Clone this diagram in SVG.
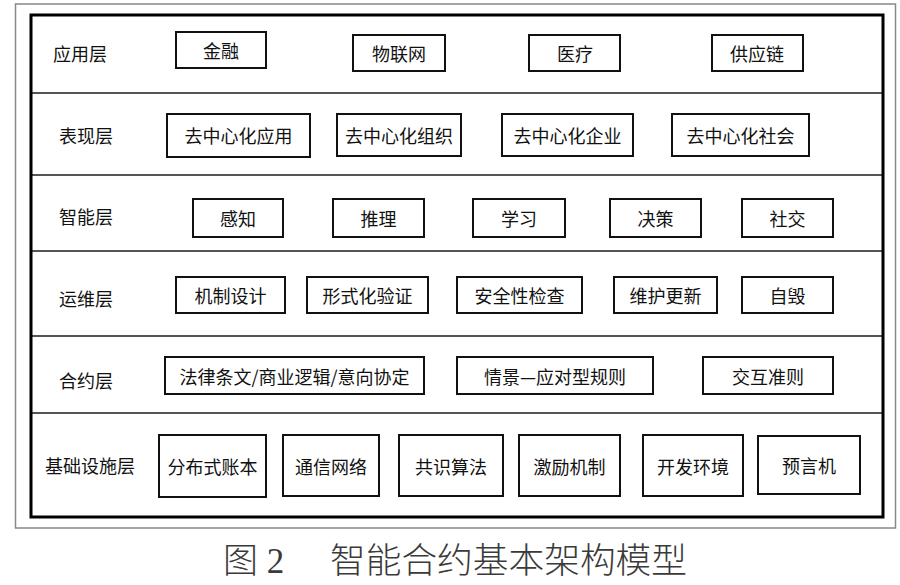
<svg xmlns="http://www.w3.org/2000/svg" width="900" height="585" viewBox="0 0 900 585">
<style>
.box{fill:#fff;stroke:#111;stroke-width:2}
.t{font-family:"Noto Sans CJK SC","Noto Sans",sans-serif;font-size:18px;fill:#111;text-anchor:middle;dominant-baseline:central}
.lbl{font-family:"Noto Sans CJK SC","Noto Sans",sans-serif;font-size:18px;fill:#111;dominant-baseline:central}
.div{stroke:#555;stroke-width:2}
.cap{font-family:"Liberation Serif","Noto Sans CJK SC",serif;font-size:35px;font-weight:300;fill:#3a3a3a}
</style>
<rect width="900" height="585" fill="#fff"/>
<rect x="15.5" y="4" width="880" height="524" fill="none" stroke="#888" stroke-width="1.5"/>
<g id="connectors">
<line class="div" x1="31" y1="93" x2="883" y2="93"/>
<line class="div" x1="31" y1="175" x2="883" y2="175"/>
<line class="div" x1="31" y1="251" x2="883" y2="251"/>
<line class="div" x1="31" y1="336" x2="883" y2="336"/>
<line class="div" x1="31" y1="413" x2="883" y2="413"/>
</g>
<rect x="31" y="15" width="852" height="502" fill="none" stroke="#000" stroke-width="3"/>
<g id="labels">
<text class="lbl" x="53" y="53">应用层</text>
<text class="lbl" x="59" y="135">表现层</text>
<text class="lbl" x="59" y="216">智能层</text>
<text class="lbl" x="59" y="298">运维层</text>
<text class="lbl" x="59" y="380">合约层</text>
<text class="lbl" x="45" y="465">基础设施层</text>
</g>
<g id="n-jinrong"><rect class="box" x="176" y="32" width="90" height="36"/><text class="t" x="221" y="50">金融</text></g>
<g id="n-wulianwang"><rect class="box" x="353" y="35" width="92" height="36"/><text class="t" x="399" y="53">物联网</text></g>
<g id="n-yiliao"><rect class="box" x="529" y="35" width="91" height="36"/><text class="t" x="575" y="53">医疗</text></g>
<g id="n-gongyinglian"><rect class="box" x="712" y="35" width="91" height="36"/><text class="t" x="757" y="53">供应链</text></g>

<g id="n-qzxyy"><rect class="box" x="167" y="114" width="143" height="43"/><text class="t" x="238.5" y="135">去中心化应用</text></g>
<g id="n-qzxzz"><rect class="box" x="337" y="114" width="124" height="42"/><text class="t" x="399" y="135">去中心化组织</text></g>
<g id="n-qzxqy"><rect class="box" x="502" y="114" width="131" height="42"/><text class="t" x="567.5" y="135">去中心化企业</text></g>
<g id="n-qzxsh"><rect class="box" x="672" y="114" width="137" height="42"/><text class="t" x="740.5" y="135">去中心化社会</text></g>

<g id="n-ganzhi"><rect class="box" x="193" y="199" width="90" height="38"/><text class="t" x="238" y="218">感知</text></g>
<g id="n-tuili"><rect class="box" x="333" y="199" width="91" height="38"/><text class="t" x="378.5" y="218">推理</text></g>
<g id="n-xuexi"><rect class="box" x="473" y="199" width="92" height="38"/><text class="t" x="519" y="218">学习</text></g>
<g id="n-juece"><rect class="box" x="610" y="199" width="91" height="38"/><text class="t" x="655.5" y="218">决策</text></g>
<g id="n-shejiao"><rect class="box" x="742" y="199" width="91" height="38"/><text class="t" x="787.5" y="218">社交</text></g>

<g id="n-jzsj"><rect class="box" x="176" y="277" width="109" height="36"/><text class="t" x="230.5" y="295">机制设计</text></g>
<g id="n-xshyz"><rect class="box" x="307" y="277" width="121" height="36"/><text class="t" x="367.5" y="295">形式化验证</text></g>
<g id="n-aqxjc"><rect class="box" x="457" y="277" width="125" height="36"/><text class="t" x="519.5" y="295">安全性检查</text></g>
<g id="n-whgx"><rect class="box" x="614" y="277" width="103" height="36"/><text class="t" x="665.5" y="295">维护更新</text></g>
<g id="n-zihui"><rect class="box" x="742" y="277" width="91" height="36"/><text class="t" x="787.5" y="295">自毁</text></g>

<g id="n-falv"><rect class="box" x="165" y="357" width="259" height="37"/><text class="t" x="294.5" y="375.5">法律条文/商业逻辑/意向协定</text></g>
<g id="n-qingjing"><rect class="box" x="457" y="357" width="196" height="37"/><text class="t" x="555" y="375.5">情景—应对型规则</text></g>
<g id="n-jiaohu"><rect class="box" x="703" y="357" width="130" height="37"/><text class="t" x="768" y="375.5">交互准则</text></g>

<g id="n-fbszb"><rect class="box" x="159" y="435" width="107" height="62"/><text class="t" x="212.5" y="466">分布式账本</text></g>
<g id="n-txwl"><rect class="box" x="283" y="435" width="96" height="61"/><text class="t" x="331" y="465.5">通信网络</text></g>
<g id="n-gssf"><rect class="box" x="399" y="435" width="104" height="61"/><text class="t" x="451" y="465.5">共识算法</text></g>
<g id="n-jljz"><rect class="box" x="519" y="435" width="101" height="61"/><text class="t" x="569.5" y="465.5">激励机制</text></g>
<g id="n-kfhj"><rect class="box" x="643" y="435" width="100" height="61"/><text class="t" x="693" y="465.5">开发环境</text></g>
<g id="n-yyj"><rect class="box" x="758" y="436" width="102" height="58"/><text class="t" x="809" y="465">预言机</text></g>

<text class="cap" x="223" y="573">图 2</text>
<text class="cap" x="330" y="573" textLength="357" lengthAdjust="spacingAndGlyphs">智能合约基本架构模型</text>
</svg>
